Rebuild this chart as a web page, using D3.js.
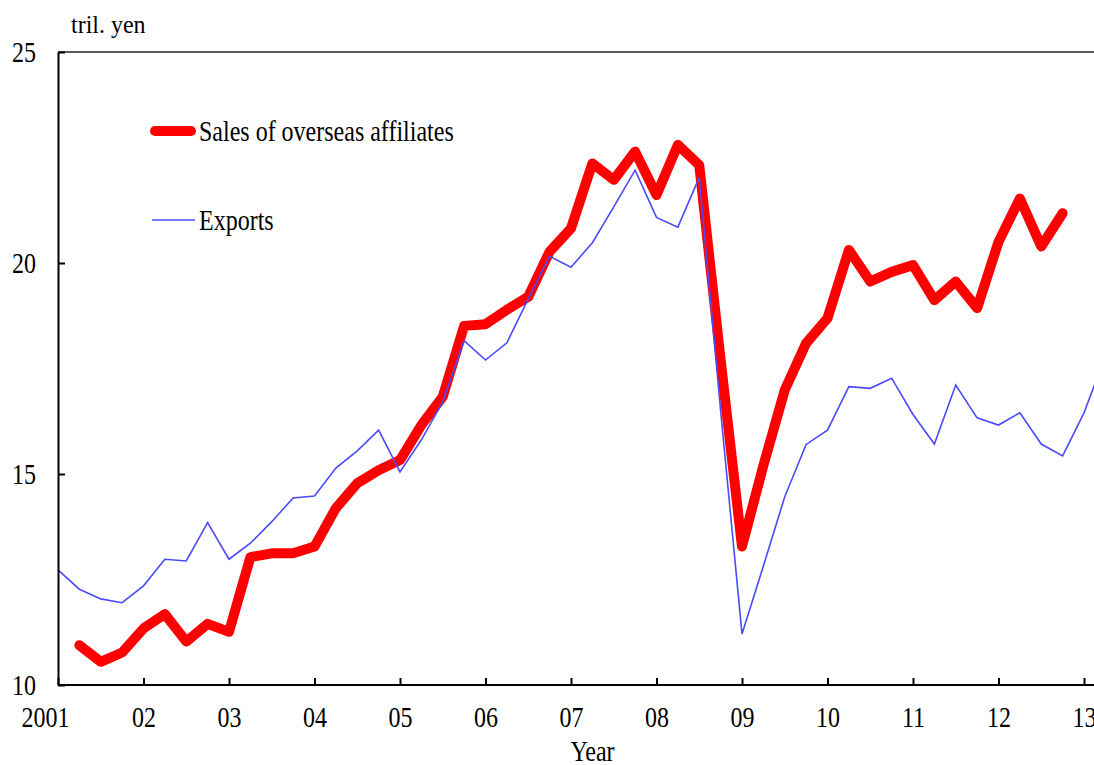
<!DOCTYPE html>
<html>
<head>
<meta charset="utf-8">
<script src="https://cdn.jsdelivr.net/npm/d3@7"></script>
<style>
  html, body { margin: 0; padding: 0; background: #fff; }
  svg { display: block; }
  text { font-family: "Liberation Serif", "Times New Roman", serif; fill: #000; }
</style>
</head>
<body>
<svg id="chart" width="1094" height="765"></svg>
<script>
// Year tick labels (first quarter of each year)
const yearLabels = ["2001","02","03","04","05","06","07","08","09","10","11","12","13"];
const yTicks = [10, 15, 20, 25];

// Quarterly values, index 0 = 2001 Q1 (tril. yen)
const exportsVals = [12.73,12.27,12.04,11.95,12.35,12.98,12.94,13.85,12.98,13.36,
                     13.87,14.43,14.48,15.14,15.55,16.04,15.05,15.81,16.71,18.16,
                     17.70,18.11,19.15,20.16,19.90,20.48,21.33,22.20,21.08,20.85,
                     22.03,16.5,11.21,12.82,14.46,15.70,16.04,17.07,17.03,17.27,
                     16.41,15.71,17.11,16.33,16.16,16.45,15.71,15.43,16.45,17.8];
const salesVals = [null,10.94,10.55,10.77,11.34,11.68,11.03,11.45,11.26,13.03,
                   13.12,13.12,13.28,14.19,14.78,15.09,15.33,16.16,16.83,18.51,
                   18.55,18.89,19.20,20.27,20.82,22.36,21.97,22.64,21.61,22.80,
                   22.32,17.7,13.28,15.2,16.99,18.10,18.69,20.31,19.56,19.79,
                   19.95,19.12,19.56,18.93,20.50,21.53,20.39,21.18];

const seriesNames = ["Sales of overseas affiliates", "Exports"];
const seriesColors = ["#ff0000", "#4a4aff"];

(function () {
const svg = d3.select("#chart");
const mLeft = 58, mRight = 1084, mTop = 52, mBottom = 685;
const SY = 1.2; // vertical stretch of the lettering

const x = d3.scaleLinear().domain([0, 48]).range([mLeft, mRight]);
const y = d3.scaleLinear().domain([10, 25]).range([mBottom, mTop]);

// top frame line
svg.append("line")
  .attr("x1", mLeft).attr("x2", 1094)
  .attr("y1", y(25)).attr("y2", y(25))
  .attr("stroke", "#222").attr("stroke-width", 1.5);

// lines
const line = d3.line()
  .defined(d => d != null)
  .x((d, i) => x(i))
  .y(d => y(d));

svg.append("path")
  .datum(salesVals)
  .attr("fill", "none")
  .attr("stroke", seriesColors[0])
  .attr("stroke-width", 10)
  .attr("stroke-linejoin", "round")
  .attr("stroke-linecap", "round")
  .attr("d", line);

svg.append("path")
  .datum(exportsVals)
  .attr("fill", "none")
  .attr("stroke", seriesColors[1])
  .attr("stroke-width", 1.6)
  .attr("d", line);

// x axis
const xAxis = d3.axisBottom(x)
  .tickValues(d3.range(0, 49, 4))
  .tickSizeInner(-7)
  .tickSizeOuter(0)
  .tickFormat((d) => yearLabels[d / 4]);

const gx = svg.append("g").attr("transform", `translate(0,${mBottom})`).call(xAxis);
gx.select(".domain").attr("stroke", "#000").attr("stroke-width", 2)
  .attr("d", `M${mLeft},0H1094`);
gx.selectAll(".tick line").attr("stroke", "#000").attr("stroke-width", 2);
gx.selectAll(".tick text")
  .attr("font-size", 24)
  .attr("font-family", "Liberation Serif")
  .attr("fill", "#000")
  .attr("y", null).attr("dy", null)
  .attr("transform", (d, i) => `translate(${i === 0 ? -13 : 0},42) scale(1,${SY})`);

// y axis
const yAxis = d3.axisLeft(y)
  .tickValues(yTicks)
  .tickSizeInner(-7)
  .tickSizeOuter(0)
  .tickFormat(d3.format("d"));
const gy = svg.append("g").attr("transform", `translate(${mLeft},0)`).call(yAxis);
gy.select(".domain").attr("stroke", "#000").attr("stroke-width", 2);
gy.selectAll(".tick line").attr("stroke", "#000").attr("stroke-width", 2);
gy.selectAll(".tick text")
  .attr("font-size", 24)
  .attr("font-family", "Liberation Serif")
  .attr("fill", "#000")
  .attr("x", null).attr("dy", null)
  .attr("text-anchor", "end")
  .attr("transform", `translate(-22,9.8) scale(1,${SY})`);

// unit label
svg.append("text")
  .attr("transform", `translate(71,33) scale(1,1.05)`)
  .attr("font-size", 24)
  .text("tril. yen");

// x axis title
svg.append("text")
  .attr("transform", `translate(592.5,761) scale(1,${SY})`)
  .attr("text-anchor", "middle")
  .attr("font-size", 24)
  .text("Year");

// legend
const legendY = [131, 220];
const lg = svg.append("g");
seriesNames.forEach((name, k) => {
  lg.append("line")
    .attr("x1", k === 0 ? 155 : 152).attr("x2", k === 0 ? 191 : 195)
    .attr("y1", legendY[k]).attr("y2", legendY[k])
    .attr("stroke", seriesColors[k])
    .attr("stroke-width", k === 0 ? 10 : 1.6)
    .attr("stroke-linecap", k === 0 ? "round" : "butt");
  lg.append("text")
    .attr("transform", `translate(199,${legendY[k] + 9.5}) scale(1,${SY})`)
    .attr("font-size", 24)
    .text(name);
});
})();
</script>
</body>
</html>
